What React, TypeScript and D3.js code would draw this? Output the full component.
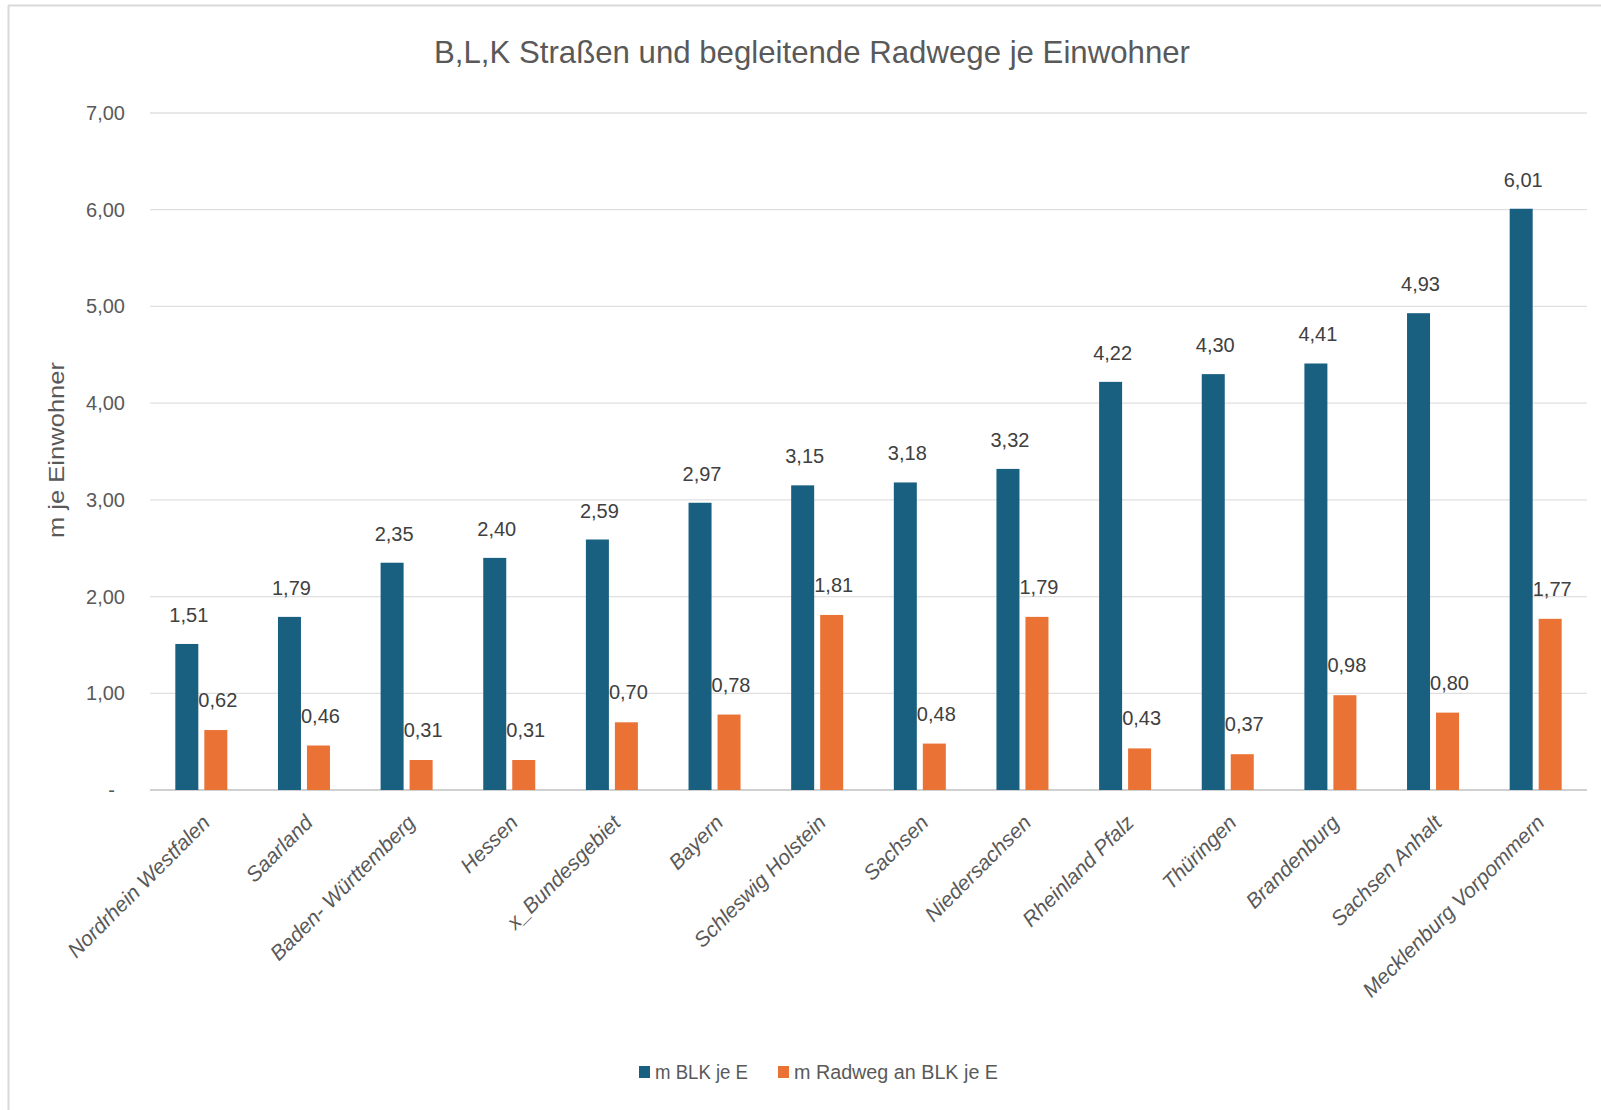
import React from "react";
import * as d3 from "d3";

const categories = [
  "Nordrhein Westfalen",
  "Saarland",
  "Baden- Württemberg",
  "Hessen",
  "x_Bundesgebiet",
  "Bayern",
  "Schleswig Holstein",
  "Sachsen",
  "Niedersachsen",
  "Rheinland Pfalz",
  "Thüringen",
  "Brandenburg",
  "Sachsen Anhalt",
  "Mecklenburg Vorpommern",
];
const seriesBLK = [1.51, 1.79, 2.35, 2.4, 2.59, 2.97, 3.15, 3.18, 3.32, 4.22, 4.3, 4.41, 4.93, 6.01];
const seriesRadweg = [0.62, 0.46, 0.31, 0.31, 0.7, 0.78, 1.81, 0.48, 1.79, 0.43, 0.37, 0.98, 0.8, 1.77];
const seriesNames = ["m BLK je E", "m Radweg an BLK je E"];
const yTicks = [0, 1, 2, 3, 4, 5, 6, 7];
const title = "B,L,K Straßen und begleitende Radwege je Einwohner";
const yTitle = "m je Einwohner";

const W = 1601;
const H = 1110;
const BLUE = "#185f80";
const ORANGE = "#e97234";
const TEXT = "#595959";
const LABEL = "#404040";
const FONT = "'Liberation Sans', Arial, sans-serif";

const fmt = (v: number) => (v === 0 ? "-" : v.toFixed(2).replace(".", ","));

export default function App() {
  const left = 150;
  const right = 1587;
  const top = 113;
  const bottom = 790;
  const x = d3.scaleBand<string>().domain(categories).range([left, right]).paddingInner(0).paddingOuter(0);
  const y = d3.scaleLinear().domain([0, 7]).range([bottom, top]);
  const barW = 23;
  const gap = 6;

  return (
    <svg
      width={W}
      height={H}
      style={{ position: "absolute", left: 0, top: 0, background: "#fff" }}
      fontFamily={FONT}
    >
      <rect x={0} y={0} width={W} height={H} fill="#fff" />
      <line x1={8.5} y1={5} x2={8.5} y2={H} stroke="#d9d9d9" strokeWidth={2} />
      <line x1={8} y1={5.5} x2={W} y2={5.5} stroke="#d9d9d9" strokeWidth={2} />

      <text
        x={812}
        y={63}
        textAnchor="middle"
        fontSize={32}
        fill={TEXT}
        textLength={756}
        lengthAdjust="spacingAndGlyphs"
      >
        {title}
      </text>

      {yTicks.map((t) => (
        <g key={t}>
          <line
            x1={left}
            x2={right}
            y1={y(t)}
            y2={y(t)}
            stroke={t === 0 ? "#d0d0d0" : "#e0e0e0"}
            strokeWidth={t === 0 ? 2 : 1.3}
          />
          <text
            x={t === 0 ? 115 : 125}
            y={y(t) + 7}
            textAnchor="end"
            fontSize={20}
            fill={TEXT}
          >
            {fmt(t)}
          </text>
        </g>
      ))}

      <text
        transform={`translate(64,450) rotate(-90)`}
        textAnchor="middle"
        fontSize={22}
        fill={TEXT}
        textLength={176}
        lengthAdjust="spacingAndGlyphs"
      >
        {yTitle}
      </text>

      {categories.map((c, i) => {
        const cx = (x(c) as number) + x.bandwidth() / 2;
        const bx = cx - gap / 2 - barW;
        const ox = cx + gap / 2;
        const v1 = seriesBLK[i];
        const v2 = seriesRadweg[i];
        return (
          <g key={c}>
            <rect x={bx} y={y(v1)} width={barW} height={bottom - y(v1)} fill={BLUE} />
            <rect x={ox} y={y(v2)} width={barW} height={bottom - y(v2)} fill={ORANGE} />
            <text x={bx + barW / 2 + 2} y={y(v1) - 22} textAnchor="middle" fontSize={20} fill={LABEL}>
              {fmt(v1)}
            </text>
            <text x={ox + barW / 2 + 2} y={y(v2) - 23} textAnchor="middle" fontSize={20} fill={LABEL}>
              {fmt(v2)}
            </text>
            <text
              transform={`translate(${cx + 10},${bottom + 34}) rotate(-45)`}
              textAnchor="end"
              fontSize={21}
              fontStyle="italic"
              fill={TEXT}
            >
              {c}
            </text>
          </g>
        );
      })}

      <g>
        <rect x={639} y={1066} width={11} height={12} fill={BLUE} />
        <text x={655} y={1079} fontSize={20} fill={TEXT} textLength={93} lengthAdjust="spacingAndGlyphs">
          {seriesNames[0]}
        </text>
        <rect x={778} y={1066} width={11} height={12} fill={ORANGE} />
        <text x={794} y={1079} fontSize={20} fill={TEXT} textLength={204} lengthAdjust="spacingAndGlyphs">
          {seriesNames[1]}
        </text>
      </g>
    </svg>
  );
}
